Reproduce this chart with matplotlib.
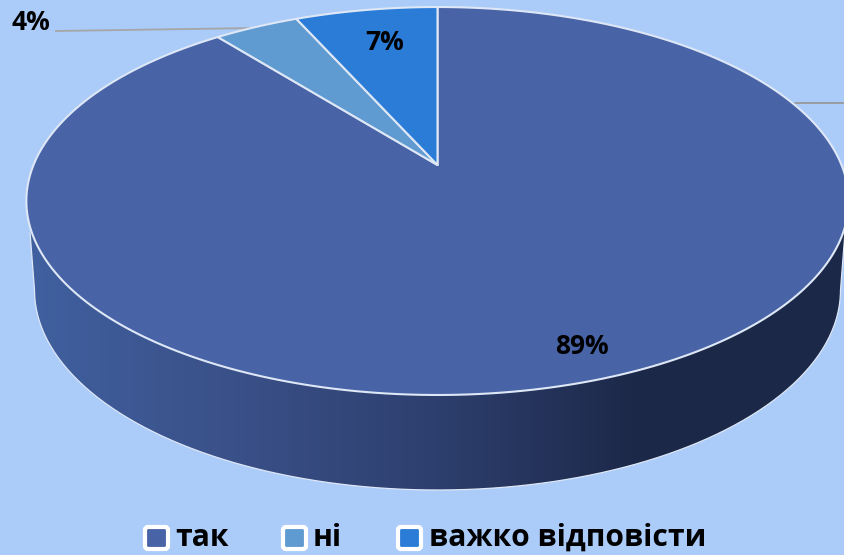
"""3D-look pie chart with a perspective top face, redrawn in pixel coordinates."""

import matplotlib

matplotlib.use("Agg")
import matplotlib.pyplot as plt
import numpy as np
from matplotlib.colors import LinearSegmentedColormap
from matplotlib.patches import FancyBboxPatch, PathPatch
from matplotlib.path import Path

categories = ["так", "ні", "важко відповісти"]
shares = [89.3, 4.0, 6.7]
share_labels = ["89%", "4%", "7%"]
colors = ["#4863A6", "#5F9AD0", "#2A7CD6"]

BG = "#ABCBF9"
EDGE = "#DDE7F6"
CX, CY = 437.5, 165
A, B, K = 404, 187.3, 0.1856  # top face radii and perspective strength
FONT = ["Open Sans", "DejaVu Sans"]


def rim(t):
    # t is measured from 12 o'clock, clockwise
    w = 1 + K * np.cos(t)
    return CX + A * np.sin(t) / w, CY - B * np.cos(t) / w


fig = plt.figure(figsize=(8.44, 5.55), dpi=100, facecolor=BG)
ax = fig.add_axes([0, 0, 1, 1])
ax.set_xlim(0, 844)
ax.set_ylim(555, 0)
ax.axis("off")

# side wall with horizontal shading
s = np.linspace(0, np.pi, 200)
wall_x = np.r_[30, 437.5 - 403 * np.cos(s), 845]
wall_y = np.r_[232, 290 + 200 * np.sin(s), 232]
wall = PathPatch(
    Path(np.column_stack([wall_x, wall_y])), facecolor="none", edgecolor="none"
)
ax.add_patch(wall)
cmap = LinearSegmentedColormap.from_list(
    "wall", ["#40609F", "#3A5088", "#2D3F6E", "#1C2848", "#1C2848"]
)
im = ax.imshow(
    np.linspace(0, 1, 256)[None, :],
    extent=(30, 845, 495, 200),
    cmap=cmap,
    aspect="auto",
    zorder=2,
)
im.set_clip_path(wall)
ax.set_xlim(0, 844)
ax.set_ylim(555, 0)
ax.add_patch(
    PathPatch(wall.get_path(), facecolor="none", edgecolor=EDGE, lw=0.9, zorder=3)
)

# slices go clockwise from 12 o'clock, largest first
edges = np.deg2rad(np.r_[0, np.cumsum(shares)] * 3.6)
for start, stop, color in zip(edges[:-1], edges[1:], colors):
    t = np.linspace(start, stop, 300)
    x, y = rim(t)
    ax.fill(
        np.r_[CX, x],
        np.r_[CY, y],
        facecolor=color,
        edgecolor=EDGE,
        lw=1.5,
        joinstyle="round",
        zorder=4,
    )

# leader lines
ax.plot([56, 257], [31, 28], color="#A6A6A6", lw=1.3, zorder=3.5)
ax.plot([795, 844], [103, 103], color="#999999", lw=1.3, zorder=3.5)

# data labels
label_pos = [(582, 347), (31, 23), (385, 42)]
for text, (x, y) in zip(share_labels, label_pos):
    ax.text(
        x, y, text, ha="center", va="center", fontsize=19, fontweight="bold",
        family=FONT, color="black", zorder=6,
    )

# legend
marker_x = [145, 283, 398]
text_x = [175, 313, 429]
for name, color, mx, tx in zip(categories, colors, marker_x, text_x):
    ax.add_patch(
        FancyBboxPatch(
            (mx + 2, 529), 19, 18, boxstyle="round,pad=2,rounding_size=3",
            facecolor=color, edgecolor="white", lw=3, zorder=5,
        )
    )
    ax.text(
        tx, 538, name, ha="left", va="center", fontsize=21.6, fontweight="bold",
        family=FONT, color="black", zorder=6,
    )

fig.savefig("out.png", dpi=100, facecolor=BG)
